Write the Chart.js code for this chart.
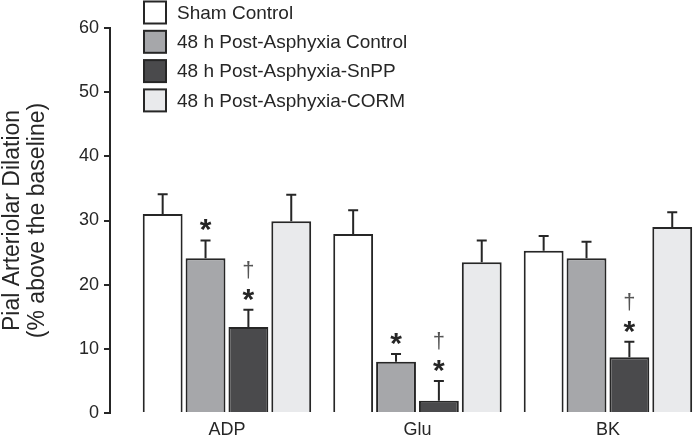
<!DOCTYPE html>
<html>
<head>
<meta charset="utf-8">
<script src="https://cdn.jsdelivr.net/npm/chart.js@4"></script>
<style>
  html, body { margin: 0; padding: 0; background: #fff; }
</style>
</head>
<body>
<canvas id="chart" width="695" height="444"></canvas>
<script>
// groups and series
const groups = ['ADP', 'Glu', 'BK'];
const seriesNames = ['Sham Control', '48 h Post-Asphyxia Control', '48 h Post-Asphyxia-SnPP', '48 h Post-Asphyxia-CORM'];
const sham = [31.0, 27.9, 25.3];
const shamErr = [3.1, 3.7, 2.3];
const control = [24.1, 8.0, 24.1];
const controlErr = [2.8, 1.2, 2.6];
const snpp = [13.4, 1.9, 8.7];
const snppErr = [2.7, 3.1, 2.4];
const corm = [29.9, 23.5, 29.0];
const cormErr = [4.1, 3.4, 2.3];
// significance marks, listed bottom to top
const shamMarks = [[], [], []];
const controlMarks = [['*'], ['*'], []];
const snppMarks = [['*', '†'], ['*', '†'], ['*', '†']];
const cormMarks = [[], [], []];
const yTicks = [0, 10, 20, 30, 40, 50, 60];

const ink = '#262626';
const fills = ['#ffffff', '#a6a7aa', '#4a4a4c', '#e9eaec'];
const FONT = "'Liberation Sans', Arial, sans-serif";
Chart.defaults.font.family = FONT;

const toPoints = arr => arr.map((v, i) => ({x: i, y: v}));

function centeredText(ctx, text, x, cy) {
  const m = ctx.measureText(text);
  ctx.fillText(text, x, cy + (m.actualBoundingBoxAscent - m.actualBoundingBoxDescent) / 2);
}

const errorBars = {
  id: 'errorBars',
  afterDatasetsDraw(chart) {
    const ctx = chart.ctx;
    const yScale = chart.scales.y;
    chart.data.datasets.forEach((ds, di) => {
      const meta = chart.getDatasetMeta(di);
      meta.data.forEach((bar, i) => {
        const top = yScale.getPixelForValue(ds.data[i].y + ds.errors[i]);
        ctx.save();
        ctx.strokeStyle = ink;
        ctx.lineWidth = 2;
        ctx.beginPath();
        ctx.moveTo(bar.x, bar.y);
        ctx.lineTo(bar.x, top);
        ctx.moveTo(bar.x - 5, top);
        ctx.lineTo(bar.x + 5, top);
        ctx.stroke();
        ctx.textAlign = 'center';
        ctx.textBaseline = 'alphabetic';
        let cy = top - 15;
        ds.marks[i].forEach(m => {
          if (m === '*') {
            ctx.font = 'bold 30px ' + FONT;
            ctx.fillStyle = ink;
          } else {
            ctx.font = '22px ' + FONT;
            ctx.fillStyle = '#555';
          }
          centeredText(ctx, m, bar.x, cy);
          cy -= 25;
        });
        ctx.restore();
      });
    });
  }
};

const boxLegend = {
  id: 'boxLegend',
  afterDraw(chart) {
    const ctx = chart.ctx;
    ctx.save();
    chart.data.datasets.forEach((ds, k) => {
      const cy = 12.5 + k * 29.3;
      ctx.fillStyle = ds.backgroundColor;
      ctx.strokeStyle = ink;
      ctx.lineWidth = 2;
      ctx.fillRect(144, cy - 11, 22, 22);
      ctx.strokeRect(144, cy - 11, 22, 22);
      ctx.fillStyle = ink;
      ctx.font = '19px ' + FONT;
      ctx.textAlign = 'left';
      ctx.textBaseline = 'middle';
      ctx.fillText(ds.label, 177, cy + 1);
    });
    ctx.restore();
  }
};

const makeSet = (k, values, errors, marks) => ({
  label: seriesNames[k],
  data: toPoints(values),
  errors: errors,
  marks: marks,
  backgroundColor: fills[k],
  borderColor: ink,
  borderWidth: 2
});

new Chart(document.getElementById('chart'), {
  type: 'bar',
  data: {
    datasets: [
      makeSet(0, sham, shamErr, shamMarks),
      makeSet(1, control, controlErr, controlMarks),
      makeSet(2, snpp, snppErr, snppMarks),
      makeSet(3, corm, cormErr, cormMarks)
    ]
  },
  options: {
    responsive: false,
    animation: false,
    devicePixelRatio: 1,
    categoryPercentage: 0.9,
    barPercentage: 0.93,
    layout: { padding: { top: 28, right: 0, bottom: 0, left: 0 } },
    plugins: { legend: { display: false }, tooltip: { enabled: false } },
    scales: {
      x: {
        type: 'linear',
        offset: false,
        min: -0.614,
        max: 2.457,
        grid: { display: false, drawTicks: false, offset: false },
        border: { display: false },
        ticks: {
          stepSize: 1,
          includeBounds: false,
          autoSkip: false,
          maxRotation: 0,
          padding: 6,
          color: ink,
          font: { size: 18 },
          callback: v => groups[v] ?? ''
        },
        afterFit: s => { s.height = 31; }
      },
      y: {
        min: 0,
        max: 60,
        afterBuildTicks: s => { s.ticks = yTicks.map(v => ({value: v})); },
        grid: { display: true, drawOnChartArea: false, drawTicks: true, tickLength: 6, color: ink, lineWidth: 2 },
        border: { display: true, color: ink, width: 2 },
        ticks: { padding: 5, color: ink, font: { size: 18 } },
        title: {
          display: true,
          text: ['Pial Arteriolar Dilation', '(% above the baseline)'],
          color: ink,
          padding: 0,
          font: { size: 23, lineHeight: 1.09 }
        },
        afterFit: s => { s.width = 110; }
      }
    }
  },
  plugins: [errorBars, boxLegend]
});
</script>
</body>
</html>
